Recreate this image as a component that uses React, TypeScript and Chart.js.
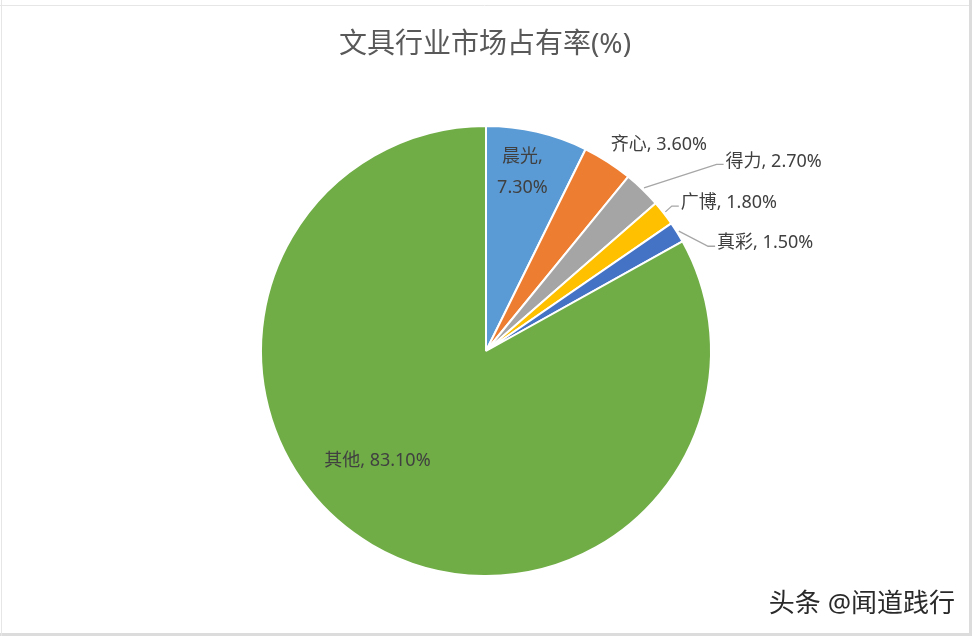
import React, { useEffect, useRef } from "react";
import { Chart, registerables } from "chart.js";

Chart.register(...registerables);

const titleText = "文具行业市场占有率(%)";
const categories = ["晨光", "齐心", "得力", "广博", "真彩", "其他"];
const shares = [7.3, 3.6, 2.7, 1.8, 1.5, 83.1];
const shareLabels = ["7.30%", "3.60%", "2.70%", "1.80%", "1.50%", "83.10%"];
const sliceColors = ["#5B9BD5", "#ED7D31", "#A5A5A5", "#FFC000", "#4472C4", "#70AD47"];
const watermark = "头条 @闻道践行";

// label placement (styles/positions, not data)
type Place =
  | { mode: "inside"; r: number; dx: number; dy: number; wrap: boolean }
  | { mode: "outside"; dx: number; dy: number; leader: boolean };
const labelPlacement: Place[] = [
  { mode: "inside", r: 0.81, dx: -5, dy: -1, wrap: true },
  { mode: "outside", dx: 3, dy: -17, leader: false },
  { mode: "outside", dx: 83, dy: -28, leader: true },
  { mode: "outside", dx: 17, dy: -10, leader: true },
  { mode: "outside", dx: 40, dy: 11, leader: true },
  { mode: "inside", r: 0.69, dx: -30, dy: -24, wrap: false },
];

const FONT = '"Noto Sans", "Noto Sans CJK SC", sans-serif';

const labelPlugin = {
  id: "customLabels",
  beforeDraw(chart: any) {
    const ctx = chart.ctx;
    ctx.save();
    ctx.fillStyle = "#ffffff";
    ctx.fillRect(0, 0, chart.width, chart.height);
    ctx.restore();
  },
  afterDraw(chart: any) {
    const ctx = chart.ctx as CanvasRenderingContext2D;
    const W = chart.width;
    const H = chart.height;
    ctx.save();
    // frame
    ctx.fillStyle = "#dcdcdc";
    ctx.fillRect(W - 3, 0, 3, H);
    ctx.fillRect(0, H - 3, W, 3);
    ctx.strokeStyle = "#e6e6e6";
    ctx.lineWidth = 1;
    ctx.beginPath();
    ctx.moveTo(1.5, 0);
    ctx.lineTo(1.5, H);
    ctx.moveTo(0, 5.5);
    ctx.lineTo(W - 3, 5.5);
    ctx.stroke();

    // title
    ctx.fillStyle = "#595959";
    ctx.font = `28px ${FONT}`;
    ctx.textAlign = "center";
    ctx.textBaseline = "middle";
    ctx.fillText(titleText, W / 2 - 1, 45);

    // labels
    const meta = chart.getDatasetMeta(0);
    ctx.font = `18px ${FONT}`;
    meta.data.forEach((arc: any, i: number) => {
      const { x, y, startAngle, endAngle, outerRadius } = arc.getProps(
        ["x", "y", "startAngle", "endAngle", "outerRadius"],
        true
      );
      const mid = (startAngle + endAngle) / 2;
      const p = labelPlacement[i];
      const text = `${categories[i]}, ${shareLabels[i]}`;
      ctx.fillStyle = "#404040";
      if (p.mode === "inside") {
        const cx = x + Math.cos(mid) * outerRadius * p.r + p.dx;
        const cy = y + Math.sin(mid) * outerRadius * p.r + p.dy;
        ctx.textAlign = "center";
        ctx.textBaseline = "middle";
        if (p.wrap) {
          ctx.fillText(`${categories[i]},`, cx, cy - 15.5);
          ctx.fillText(shareLabels[i], cx, cy + 15.5);
        } else {
          ctx.fillText(text, cx, cy);
        }
      } else {
        const ox = x + Math.cos(mid) * outerRadius;
        const oy = y + Math.sin(mid) * outerRadius;
        const lx = ox + p.dx;
        const ly = oy + p.dy;
        ctx.textAlign = "left";
        ctx.textBaseline = "middle";
        ctx.fillText(text, lx, ly);
        if (p.leader) {
          ctx.strokeStyle = "#a6a6a6";
          ctx.lineWidth = 1.3;
          ctx.beginPath();
          ctx.moveTo(ox + Math.cos(mid) * 2, oy + Math.sin(mid) * 2);
          ctx.lineTo(lx - 9, ly + 3);
          ctx.lineTo(lx - 2, ly + 3);
          ctx.stroke();
        }
      }
    });

    // watermark
    ctx.font = `26px ${FONT}`;
    ctx.textAlign = "right";
    ctx.textBaseline = "middle";
    ctx.shadowColor = "rgba(255,255,255,0.9)";
    ctx.shadowBlur = 3;
    ctx.fillStyle = "#2a2a2a";
    ctx.fillText(watermark, 955, 605);
    ctx.restore();
  },
};

export default function App() {
  const ref = useRef<HTMLCanvasElement | null>(null);
  useEffect(() => {
    if (!ref.current) return;
    const chart = new Chart(ref.current, {
      type: "pie",
      data: {
        labels: categories,
        datasets: [
          {
            data: shares,
            backgroundColor: sliceColors,
            borderColor: "#ffffff",
            borderWidth: 2,
          },
        ],
      },
      options: {
        responsive: false,
        animation: false,
        devicePixelRatio: 1,
        layout: { padding: { top: 125, bottom: 59, left: 0, right: 0 } },
        plugins: {
          legend: { display: false },
          tooltip: { enabled: false },
          title: { display: false },
        },
      },
      plugins: [labelPlugin],
    });
    return () => chart.destroy();
  }, []);
  return (
    <div style={{ position: "absolute", left: 0, top: 0, width: 972, height: 636 }}>
      <canvas ref={ref} width={972} height={636} style={{ display: "block" }} />
    </div>
  );
}
